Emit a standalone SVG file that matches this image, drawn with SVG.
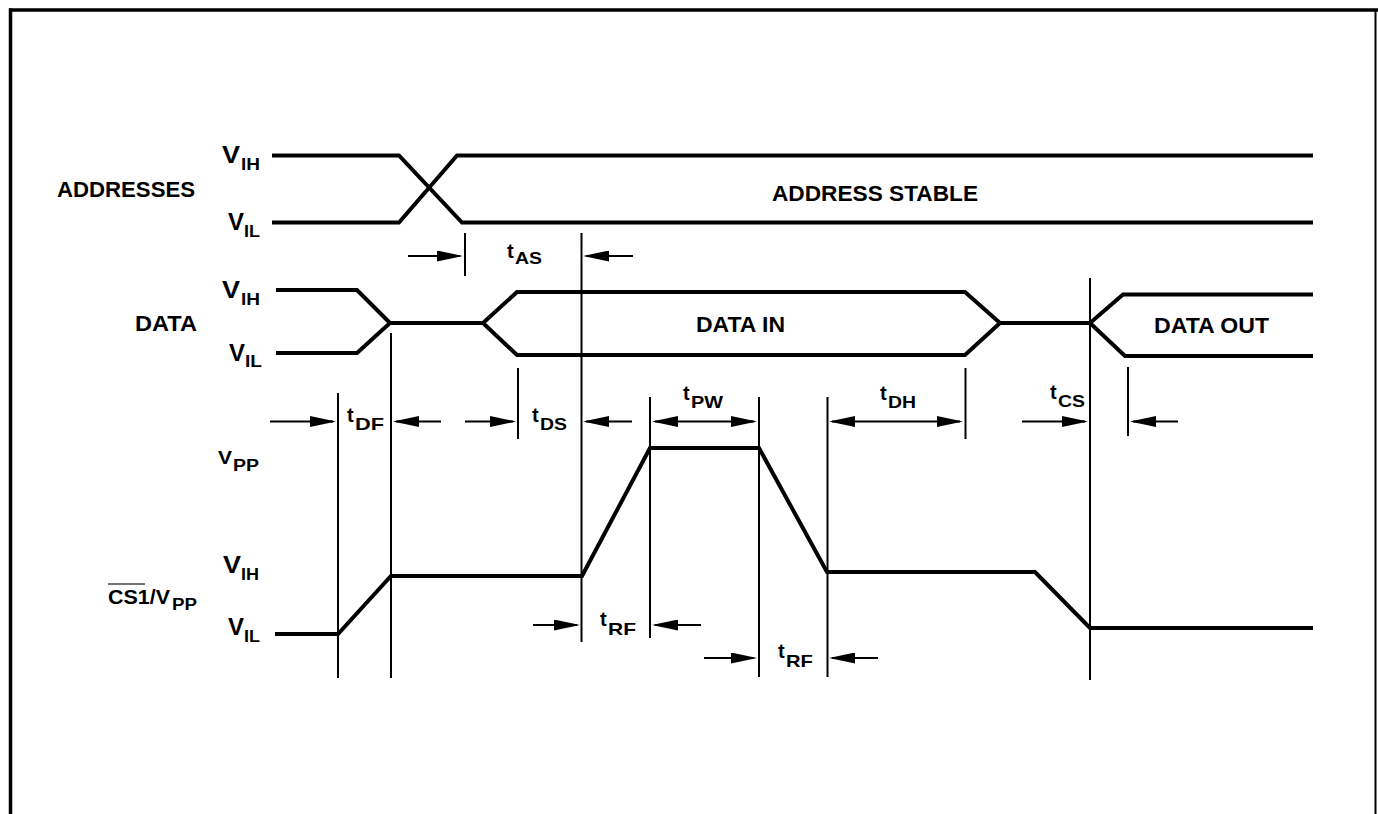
<svg xmlns="http://www.w3.org/2000/svg" width="1378" height="814" viewBox="0 0 1378 814">
<style>
.w{fill:none;stroke:#000;stroke-width:4;stroke-linejoin:miter}
.v{fill:none;stroke:#000;stroke-width:2}
.a{fill:none;stroke:#000;stroke-width:2}
.t{font-family:"Liberation Sans",Arial,Helvetica,sans-serif;font-weight:bold;fill:#000}
.L{font-size:22px}
.V{font-size:24px}
.S{font-size:16px}
.T{font-size:20px}
.U{font-size:17px}
</style>
<defs>
<marker id="ah" markerUnits="userSpaceOnUse" markerWidth="27" markerHeight="11" refX="23" refY="5.5" orient="auto-start-reverse">
<path d="M0,0 L26,5.5 L0,11 z" fill="#000"/>
</marker>
</defs>
<rect width="1378" height="814" fill="#fff"/>
<g id="frame">
<line x1="9" y1="10" x2="1378" y2="10" stroke="#000" stroke-width="3.5"/>
<line x1="10.5" y1="8.5" x2="10.5" y2="814" stroke="#000" stroke-width="3.5"/>
<line x1="1375.5" y1="10" x2="1375.5" y2="814" stroke="#000" stroke-width="2"/>
</g>
<g id="addresses">
<path class="w" d="M272,155.5 H399 L462,222.5 H1313"/>
<path class="w" d="M272,222.5 H399 L457,155.5 H1313"/>
<text class="t L" x="57" y="197" textLength="138" lengthAdjust="spacingAndGlyphs">ADDRESSES</text>
<text class="t L" x="772" y="201" textLength="206" lengthAdjust="spacingAndGlyphs">ADDRESS STABLE</text>
<text class="t V" x="222" y="163" textLength="18" lengthAdjust="spacingAndGlyphs">V</text>
<text class="t S" x="241" y="170" textLength="19" lengthAdjust="spacingAndGlyphs">IH</text>
<text class="t V" x="228" y="230" textLength="16" lengthAdjust="spacingAndGlyphs">V</text>
<text class="t S" x="244" y="237" textLength="16" lengthAdjust="spacingAndGlyphs">IL</text>
</g>
<g id="data">
<path class="w" d="M276,290 H357 L390,323 L357,353 H276"/>
<path class="w" d="M390,323 H483"/>
<path class="w" d="M483,323 L517,292 H965 L1000,323 L965,355 H517 Z"/>
<path class="w" d="M1000,323 H1090"/>
<path class="w" d="M1313,294.5 H1123 L1090,323 L1125,356 H1313"/>
<text class="t L" x="135" y="331" textLength="62" lengthAdjust="spacingAndGlyphs">DATA</text>
<text class="t L" x="696" y="332" textLength="89" lengthAdjust="spacingAndGlyphs">DATA IN</text>
<text class="t L" x="1154" y="333" textLength="115" lengthAdjust="spacingAndGlyphs">DATA OUT</text>
<text class="t V" x="222" y="298" textLength="18" lengthAdjust="spacingAndGlyphs">V</text>
<text class="t S" x="241" y="305" textLength="19" lengthAdjust="spacingAndGlyphs">IH</text>
<text class="t V" x="229" y="361" textLength="16" lengthAdjust="spacingAndGlyphs">V</text>
<text class="t S" x="245" y="367" textLength="17" lengthAdjust="spacingAndGlyphs">IL</text>
</g>
<g id="cs1">
<path class="w" d="M275,634 H338 L391,576 H582 L650,448 H759 L827,572 H1035 L1090,628 H1313"/>
<text class="t" style="font-size:19px" x="218" y="464" textLength="14" lengthAdjust="spacingAndGlyphs">V</text>
<text class="t S" x="233" y="471" textLength="26" lengthAdjust="spacingAndGlyphs">PP</text>
<text class="t V" x="223" y="573" textLength="18" lengthAdjust="spacingAndGlyphs">V</text>
<text class="t S" x="241" y="580" textLength="18" lengthAdjust="spacingAndGlyphs">IH</text>
<text class="t" style="font-size:20px" x="108" y="604" textLength="62" lengthAdjust="spacingAndGlyphs">CS1/V</text>
<text class="t S" x="172" y="610" textLength="25" lengthAdjust="spacingAndGlyphs">PP</text>
<line x1="108" y1="584" x2="145" y2="584" stroke="#444" stroke-width="1.3"/>
<text class="t V" x="228" y="635" textLength="16" lengthAdjust="spacingAndGlyphs">V</text>
<text class="t S" x="244" y="642" textLength="16" lengthAdjust="spacingAndGlyphs">IL</text>
</g>
<g id="connectors">
<line class="v" x1="338" y1="393" x2="338" y2="678"/>
<line class="v" x1="391" y1="333" x2="391" y2="678"/>
<line class="v" x1="465" y1="233" x2="465" y2="276"/>
<line class="v" x1="581.5" y1="233" x2="581.5" y2="642"/>
<line class="v" x1="518" y1="368" x2="518" y2="439"/>
<line class="v" x1="650" y1="397" x2="650" y2="638"/>
<line class="v" x1="759" y1="397" x2="759" y2="677"/>
<line class="v" x1="827.5" y1="397" x2="827.5" y2="677"/>
<line class="v" x1="965.5" y1="368" x2="965.5" y2="439"/>
<line class="v" x1="1090" y1="278" x2="1090" y2="680"/>
<line class="v" x1="1128" y1="367" x2="1128" y2="436"/>
<line class="a" x1="408" y1="256" x2="460" y2="256" marker-end="url(#ah)"/>
<line class="a" x1="633" y1="256" x2="586" y2="256" marker-end="url(#ah)"/>
<line class="a" x1="270" y1="421.5" x2="333" y2="421.5" marker-end="url(#ah)"/>
<line class="a" x1="441" y1="421.5" x2="396" y2="421.5" marker-end="url(#ah)"/>
<line class="a" x1="465" y1="421.5" x2="513" y2="421.5" marker-end="url(#ah)"/>
<line class="a" x1="632" y1="421.5" x2="586" y2="421.5" marker-end="url(#ah)"/>
<line class="a" x1="655" y1="421.5" x2="754" y2="421.5" marker-start="url(#ah)" marker-end="url(#ah)"/>
<line class="a" x1="832" y1="421.5" x2="960" y2="421.5" marker-start="url(#ah)" marker-end="url(#ah)"/>
<line class="a" x1="1022" y1="421.5" x2="1085" y2="421.5" marker-end="url(#ah)"/>
<line class="a" x1="1178" y1="421.5" x2="1133" y2="421.5" marker-end="url(#ah)"/>
<line class="a" x1="533" y1="625" x2="577" y2="625" marker-end="url(#ah)"/>
<line class="a" x1="701" y1="625" x2="655" y2="625" marker-end="url(#ah)"/>
<line class="a" x1="704" y1="658" x2="754" y2="658" marker-end="url(#ah)"/>
<line class="a" x1="878" y1="658" x2="832" y2="658" marker-end="url(#ah)"/>
</g>
<g id="timing-labels">
<text class="t T" x="507" y="258">t</text><text class="t U" x="515" y="264" textLength="27" lengthAdjust="spacingAndGlyphs">AS</text>
<text class="t T" x="347" y="422">t</text><text class="t U" x="355" y="430" textLength="29" lengthAdjust="spacingAndGlyphs">DF</text>
<text class="t T" x="532" y="422">t</text><text class="t U" x="540" y="430" textLength="27" lengthAdjust="spacingAndGlyphs">DS</text>
<text class="t T" x="683" y="400">t</text><text class="t U" x="691" y="408" textLength="32" lengthAdjust="spacingAndGlyphs">PW</text>
<text class="t T" x="880" y="400">t</text><text class="t U" x="888" y="408" textLength="28" lengthAdjust="spacingAndGlyphs">DH</text>
<text class="t T" x="1050" y="399">t</text><text class="t U" x="1058" y="407" textLength="27" lengthAdjust="spacingAndGlyphs">CS</text>
<text class="t T" x="600" y="626">t</text><text class="t U" x="608" y="635" textLength="28" lengthAdjust="spacingAndGlyphs">RF</text>
<text class="t T" x="778" y="658">t</text><text class="t U" x="786" y="667" textLength="27" lengthAdjust="spacingAndGlyphs">RF</text>
</g>
</svg>
